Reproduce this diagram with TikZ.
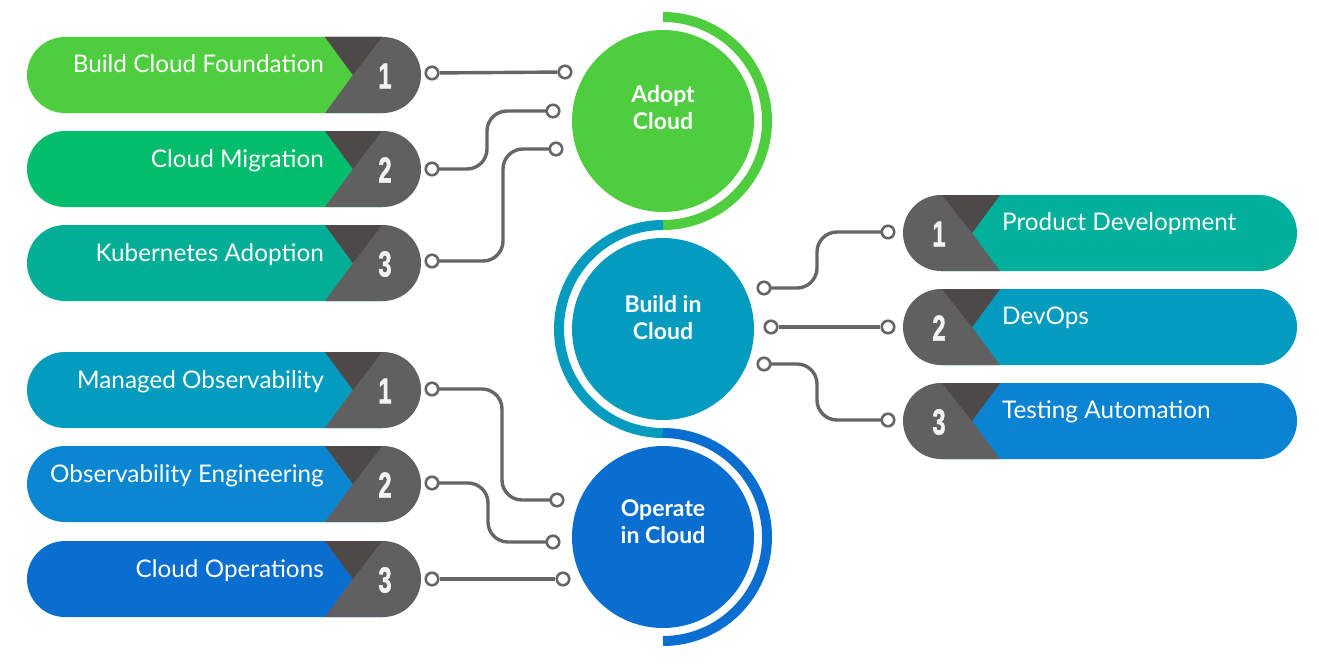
\documentclass[tikz,border=0pt]{standalone}
\usepackage{fontspec}
\setmainfont{Lato}
\newfontfamily\numfont[BoldFeatures={FakeBold=1.6}]{Liberation Sans}
\usetikzlibrary{calc}
\pgfdeclarelayer{bg}
\pgfsetlayers{bg,main}
\definecolor{cAdopt}{HTML}{4ECD3F}
\definecolor{cMig}{HTML}{02BE6C}
\definecolor{cKub}{HTML}{03AE97}
\definecolor{cBld}{HTML}{039CBE}
\definecolor{cObs}{HTML}{0A87D0}
\definecolor{cOps}{HTML}{0A6ED1}
\definecolor{cProd}{HTML}{00B09A}
\definecolor{cTest}{HTML}{0A84D2}
\definecolor{pgray}{HTML}{606060}
\definecolor{pdark}{HTML}{4D4948}
\definecolor{lgray}{HTML}{666666}
\definecolor{numwhite}{HTML}{F2F2F2}
\tikzset{
  pillbox/.style={rectangle, rounded corners=38pt, minimum width=394pt, minimum height=76pt, inner sep=0pt},
  pilltext/.style={text=white, inner sep=0pt, font=\fontsize{24.3}{29}\selectfont},
  numtext/.style={text=numwhite, inner sep=0pt, font=\numfont\bfseries\fontsize{36}{36}\selectfont},
  dot/.style={circle, draw=lgray, line width=2.6pt, fill=white, inner sep=0pt, minimum size=12.5pt},
  conn/.style={draw=lgray, line width=3.4pt, rounded corners=20pt},
  hub/.style={circle, minimum size=182pt, inner sep=0pt},
  hubtext/.style={text=white, align=center, inner sep=0pt, font=\bfseries\fontsize{23}{27}\selectfont},
  ring/.style={line width=10pt}
}
\newcommand\numglyph[1]{\scalebox{0.66}[1]{#1}}
% left pill: name, centre y, colour, text, number
\newcommand\leftpill[5]{%
  \node[pillbox] (#1) at (224,#2) {};
  \fill[#3] (65,#2-38) -- (383,#2-38) -- (383,#2+38) -- (65,#2+38) arc[start angle=90,end angle=270,radius=38] -- cycle;
  \fill[pgray] (325,#2-38) -- (383,#2-38) arc[start angle=-90,end angle=90,radius=38] -- (325,#2+38) -- (353,#2) -- cycle;
  \fill[pdark] (325,#2-38) -- (382,#2-38) -- (353,#2) -- cycle;
  \node[pilltext, anchor=base east] (#1t) at (324,#2-2) {#4};
  \node[numtext] (#1n) at (385,#2+1) {\numglyph{#5}};
}
% right pill
\newcommand\rightpill[5]{%
  \node[pillbox] (#1) at (1100,#2) {};
  \fill[#3] (941,#2-38) -- (1259,#2-38) arc[start angle=-90,end angle=90,radius=38] -- (941,#2+38) -- cycle;
  \fill[pgray] (1000,#2-38) -- (972,#2) -- (1000,#2+38) -- (941,#2+38) arc[start angle=90,end angle=270,radius=38] -- cycle;
  \fill[pdark] (942,#2-38) -- (1000,#2-38) -- (972,#2) -- cycle;
  \node[pilltext, anchor=base west] (#1t) at (1002,#2-3) {#4};
  \node[numtext] (#1n) at (939,#2+1) {\numglyph{#5}};
}
\begin{document}
\begin{tikzpicture}[x=1pt,y=-1pt]
\useasboundingbox (0,0) rectangle (1319,669);

% pills
\leftpill{L1}{75}{cAdopt}{Build Cloud Foundation}{1}
\leftpill{L2}{169}{cMig}{Cloud Migration}{2}
\leftpill{L3}{263}{cKub}{Kubernetes Adoption}{3}
\leftpill{M1}{390}{cBld}{Managed Observability}{1}
\leftpill{M2}{484}{cObs}{Observability Engineering}{2}
\leftpill{M3}{579}{cOps}{Cloud Operations}{3}
\rightpill{R1}{233}{cProd}{Product Development}{1}
\rightpill{R2}{327}{cBld}{DevOps}{2}
\rightpill{R3}{421}{cTest}{Testing Automation}{3}

% rings
\draw[ring, cAdopt] (663,17) arc[start angle=270,end angle=450,radius=104];
\draw[ring, cBld] (663,225) arc[start angle=270,end angle=90,radius=104];
\draw[ring, cOps] (663,433) arc[start angle=270,end angle=450,radius=104];

% hubs
\node[hub, fill=cAdopt] (A) at (663,121) {};
\node[hubtext] (At) at (663,108) {Adopt\\Cloud};
\node[hub, fill=cBld] (B) at (663,329) {};
\node[hubtext] (Bt) at (663,318) {Build in\\Cloud};
\node[hub, fill=cOps] (O) at (663,537) {};
\node[hubtext] (Ot) at (663,522) {Operate\\in Cloud};

% connector dots
\node[dot] (l1) at (432,73) {};
\node[dot] (a1) at (565,72) {};
\node[dot] (l2) at (432,169) {};
\node[dot] (a2) at (553,111) {};
\node[dot] (l3) at (432,261) {};
\node[dot] (a3) at (556,149) {};
\node[dot] (b1) at (764,288) {};
\node[dot] (r1) at (888,232) {};
\node[dot] (b2) at (771,327) {};
\node[dot] (r2) at (888,327) {};
\node[dot] (b3) at (764,364) {};
\node[dot] (r3) at (888,420) {};
\node[dot] (m1) at (432,389) {};
\node[dot] (o1) at (557,500) {};
\node[dot] (m2) at (432,483) {};
\node[dot] (o2) at (553,542) {};
\node[dot] (m3) at (432,579) {};
\node[dot] (o3) at (563,579) {};

% connectors
\begin{pgfonlayer}{bg}
\draw[conn] (l1) -- (a1);
\draw[conn] (l2.center) -- ++(55,0) |- (a2.center);
\draw[conn] (l3.center) -- ++(71,0) |- (a3.center);
\draw[conn] (b1.center) -- ++(53,0) |- (r1.center);
\draw[conn] (b2) -- (r2);
\draw[conn] (b3.center) -- ++(53,0) |- (r3.center);
\draw[conn] (m1.center) -- ++(70,0) |- (o1.center);
\draw[conn] (m2.center) -- ++(56,0) |- (o2.center);
\draw[conn] (m3) -- (o3);
\end{pgfonlayer}
\end{tikzpicture}
\end{document}
